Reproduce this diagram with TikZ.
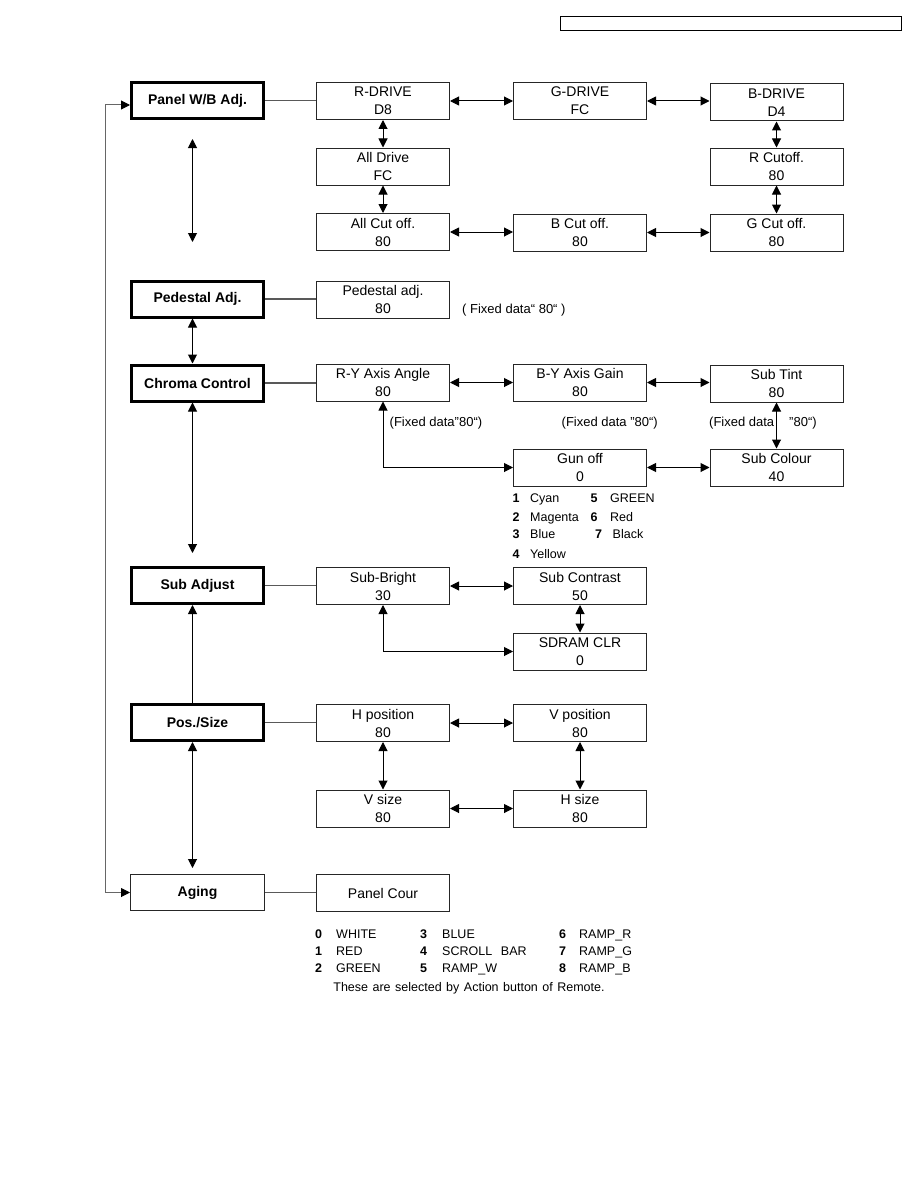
\documentclass[tikz,border=0pt]{standalone}
\usepackage{fontspec}
\setmainfont{Liberation Sans}
\usetikzlibrary{arrows.meta,calc}
\begin{document}
\begin{tikzpicture}[x=1pt,y=-1pt,
  box/.style={draw=black!85, line width=1pt, minimum width=133pt, minimum height=37pt, inner sep=0pt, align=center, font=\fontsize{14}{18}\selectfont},
  mbox/.style={draw=black, line width=3pt, minimum width=132pt, minimum height=36pt, inner sep=0pt, align=center, font=\bfseries\fontsize{14}{17}\selectfont},
  tbox/.style={draw=black!85, line width=1pt, minimum width=134pt, minimum height=36pt, inner sep=0pt, align=center, font=\bfseries\fontsize{14}{17}\selectfont},
  tip/.tip={Triangle[length=9pt,width=9pt]},
  btip/.tip={Triangle[length=9pt,width=9pt,color=black]},
  dbl/.style={tip-tip, line width=1pt, draw=black},
  sarr/.style={-tip, line width=1pt, draw=black},
  link/.style={line width=1.2pt, draw=black!65},
  lbl/.style={anchor=base west, inner sep=0pt, font=\fontsize{13}{15}\selectfont},
  gl/.style={anchor=base west, inner sep=0pt, font=\fontsize{12.5}{15}\selectfont},
  gn/.style={anchor=base west, inner sep=0pt, font=\bfseries\fontsize{12.5}{15}\selectfont},
]
\useasboundingbox[fill=white] (0,0) rectangle (918,1188);

% header box
\node[draw=black, line width=1pt, minimum width=341pt, minimum height=14pt, inner sep=0pt] (hdr) at (730.5,24) {};

% left column
\node[mbox] (pwb) at (197.5,100.5) {Panel W/B Adj.};
\node[mbox] (ped) at (197.5,299) {Pedestal Adj.};
\node[mbox] (chroma) at (197.5,383) {Chroma Control};
\node[mbox] (subadj) at (197.5,585.5) {Sub Adjust};
\node[mbox] (pos) at (197.5,722.5) {Pos./Size};
\node[tbox] (aging) at (197.5,892.5) {Aging};

% Panel W/B
\node[box] (rdrive) at (383,101) {R-DRIVE\\D8};
\node[box] (gdrive) at (580,101) {G-DRIVE\\FC};
\node[box] (bdrive) at (776.5,102.5) {B-DRIVE\\D4};
\node[box] (alldrive) at (383,166.5) {All Drive\\FC};
\node[box] (rcut) at (776.5,166.5) {R Cutoff.\\80};
\node[box] (allcut) at (383,232) {All Cut off.\\80};
\node[box] (bcut) at (580,232.5) {B Cut off.\\80};
\node[box] (gcut) at (776.5,232.5) {G Cut off.\\80};

% Pedestal
\node[box] (pedadj) at (383,299.5) {Pedestal adj.\\80};
\node[lbl] (pedfix) at (462,313.7) {( Fixed data“ 80“ )};

% Chroma
\node[box] (ry) at (383,382.5) {R-Y Axis Angle\\80};
\node[box] (by) at (580,382.5) {B-Y Axis Gain\\80};
\node[box] (subtint) at (776.5,383.5) {Sub Tint\\80};
\node[box] (gunoff) at (580,467.5) {Gun off\\0};
\node[box] (subcol) at (776.5,467.5) {Sub Colour\\40};
\node[lbl] (fix1) at (389.5,426.7) {(Fixed data”80“)};
\node[lbl] (fix2) at (561.5,426.7) {(Fixed data ”80“)};
\node[lbl] (fix3) at (709,426.7) {(Fixed data\hspace{15pt}”80“)};

\node[gn] (g1n) at (512.5,502.2) {1};
\node[gl] (g1) at (530,502.2) {Cyan};
\node[gn] (g2n) at (512.5,521.2) {2};
\node[gl] (g2) at (530,521.2) {Magenta};
\node[gn] (g3n) at (512.5,538.8) {3};
\node[gl] (g3) at (530,538.8) {Blue};
\node[gn] (g4n) at (512.5,558.5) {4};
\node[gl] (g4) at (530,558.5) {Yellow};
\node[gn] (g5n) at (590.5,502.2) {5};
\node[gl] (g5) at (610,502.2) {GREEN};
\node[gn] (g6n) at (590.5,521.2) {6};
\node[gl] (g6) at (610,521.2) {Red};
\node[gn] (g7n) at (595,538.8) {7};
\node[gl] (g7) at (612.5,538.8) {Black};

% Sub adjust
\node[box] (subbright) at (383,586) {Sub-Bright\\30};
\node[box] (subcon) at (580,586) {Sub Contrast\\50};
\node[box] (sdram) at (580,651.5) {SDRAM CLR\\0};

% Pos/Size
\node[box] (hpos) at (383,723) {H position\\80};
\node[box] (vpos) at (580,723) {V position\\80};
\node[box] (vsize) at (383,808.5) {V size\\80};
\node[box] (hsize) at (580,808.5) {H size\\80};

% Aging
\node[box] (cour) at (383,893) {Panel Cour};
\node[gn] (a0n) at (315,938.5) {0};
\node[gl] (a0) at (336,938.5) {WHITE};
\node[gn] (a1n) at (315,955.5) {1};
\node[gl] (a1) at (336,955.5) {RED};
\node[gn] (a2n) at (315,972.5) {2};
\node[gl] (a2) at (336,972.5) {GREEN};
\node[gn] (a3n) at (420,938.5) {3};
\node[gl] (a3) at (442,938.5) {BLUE};
\node[gn] (a4n) at (420,955.5) {4};
\node[gl] (a4) at (442,955.5) {SCROLL\hspace{0.7em}BAR};
\node[gn] (a5n) at (420,972.5) {5};
\node[gl] (a5) at (442,972.5) {RAMP\_W};
\node[gn] (a6n) at (559,938.5) {6};
\node[gl] (a6) at (579,938.5) {RAMP\_R};
\node[gn] (a7n) at (559,955.5) {7};
\node[gl] (a7) at (579,955.5) {RAMP\_G};
\node[gn] (a8n) at (559,972.5) {8};
\node[gl] (a8) at (579,972.5) {RAMP\_B};
\node[gl, anchor=base] (note) at (469,991.5) {\spaceskip=0.36em These are selected by Action button of Remote.};

% coordinates
\coordinate (ax) at (192.5,0);
\coordinate (pa1) at (192.5,139);
\coordinate (pa2) at (192.5,242);
\coordinate (cd) at (192.5,553);
\coordinate (pd) at (192.5,868);
\coordinate (lt) at (105,105);
\coordinate (lb) at (105,892.5);

% plain links
\draw[link] (pwb.east) -- (pwb.east -| rdrive.west);
\draw[link] (ped.east) -- (ped.east -| pedadj.west);
\draw[link] (chroma.east) -- (chroma.east -| ry.west);
\draw[link] (subadj.east) -- (subadj.east -| subbright.west);
\draw[link] (pos.east) -- (pos.east -| hpos.west);
\draw[link] (aging.east) -- (aging.east -| cour.west);

% left column arrows
\draw[dbl] (pa1) -- (pa2);
\draw[dbl] (ped.south -| ax) -- (chroma.north -| ax);
\draw[dbl] (chroma.south -| ax) -- (cd);
\draw[sarr] (pos.north -| ax) -- (subadj.south -| ax);
\draw[dbl] (pos.south -| ax) -- (pd);
\draw[btip-btip, line width=1pt, draw=black!60] (pwb.west |- lt) -- (lt) -- (lb) -- (aging.west |- lb);

% Panel W/B arrows
\draw[dbl] (rdrive.east) -- (gdrive.west);
\draw[dbl] (gdrive.east) -- (gdrive.east -| bdrive.west);
\draw[dbl] (rdrive.south) -- (alldrive.north);
\draw[dbl] (alldrive.south) -- (allcut.north);
\draw[dbl] (allcut.east) -- (allcut.east -| bcut.west);
\draw[dbl] (bcut.east) -- (gcut.west);
\draw[dbl] (bdrive.south) -- (rcut.north);
\draw[dbl] (rcut.south) -- (gcut.north);

% Chroma arrows
\draw[dbl] (ry.east) -- (by.west);
\draw[dbl] (by.east) -- (by.east -| subtint.west);
\draw[dbl] (subtint.south) -- (subcol.north);
\draw[dbl] (gunoff.east) -- (subcol.west);
\draw[dbl] (ry.south) |- (gunoff.west);

% Sub adjust arrows
\draw[dbl] (subbright.east) -- (subcon.west);
\draw[dbl] (subcon.south) -- (sdram.north);
\draw[dbl] (subbright.south) |- (sdram.west);

% Pos/Size arrows
\draw[dbl] (hpos.east) -- (vpos.west);
\draw[dbl] (hpos.south) -- (vsize.north);
\draw[dbl] (vpos.south) -- (hsize.north);
\draw[dbl] (vsize.east) -- (hsize.west);
\end{tikzpicture}
\end{document}
